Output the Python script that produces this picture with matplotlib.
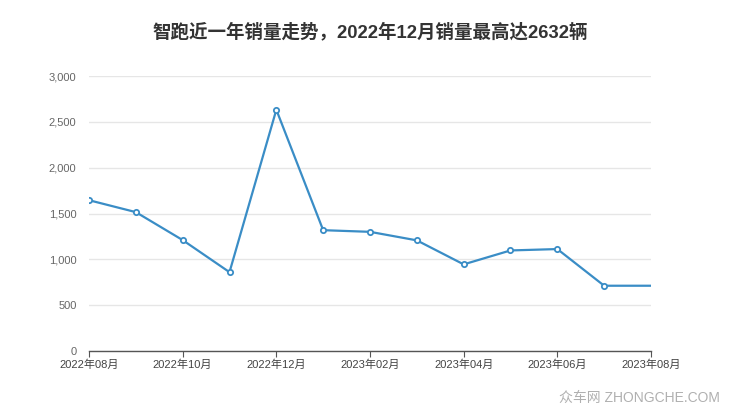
import matplotlib
matplotlib.use("Agg")
import matplotlib.pyplot as plt
from matplotlib.ticker import FuncFormatter

plt.rcParams["font.family"] = ["Liberation Sans", "Noto Sans CJK SC", "DejaVu Sans"]

# ========= 資料 =========
months = ["2022年08月", "2022年09月", "2022年10月", "2022年11月", "2022年12月",
          "2023年01月", "2023年02月", "2023年03月", "2023年04月", "2023年05月",
          "2023年06月", "2023年07月", "2023年08月"]
sales = [1645, 1515, 1210, 860, 2632, 1318, 1300, 1207, 945, 1097, 1112, 712, 712]
y_ticks = [0, 500, 1000, 1500, 2000, 2500, 3000]
title = "智跑近一年销量走势，2022年12月销量最高达2632辆"

line_color = "#3a8dc6"

fig = plt.figure(figsize=(7.4, 4.17), dpi=100)
ax = fig.add_axes([89 / 740, 1 - 351 / 417, (651 - 89) / 740, (351 - 76) / 417])

x = list(range(len(months)))
ax.plot(x, sales, color=line_color, linewidth=1.6, zorder=3)
ax.plot(x[:-1], sales[:-1], linestyle="none", marker="o", markersize=3.8,
        markerfacecolor="white", markeredgecolor=line_color, markeredgewidth=1.3, zorder=4)

ax.set_xlim(0, len(months) - 1)
ax.set_ylim(0, 3000)
ax.set_yticks(y_ticks)
ax.yaxis.set_major_formatter(FuncFormatter(lambda v, p: f"{int(v):,}"))
ax.set_xticks(x[::2])
ax.set_xticklabels(months[::2])

ax.grid(axis="y", color="#e6e6e6", linewidth=1)
ax.set_axisbelow(True)
for s in ["top", "right", "left"]:
    ax.spines[s].set_visible(False)
ax.spines["bottom"].set_color("#555555")
ax.spines["bottom"].set_linewidth(1)

ax.tick_params(axis="y", length=0, labelsize=8, labelcolor="#666666", pad=9)
ax.tick_params(axis="x", length=4, color="#555555", labelsize=8,
               labelcolor="#444444", pad=2)

fig.text(0.5, 1 - 32 / 417, title, ha="center", va="center",
         fontsize=13.3, fontweight="bold", color="#333333",
         family=["Liberation Sans", "Noto Sans CJK SC"])
fig.text(720 / 740, 1 - 398 / 417, "众车网 ZHONGCHE.COM", ha="right", va="center",
         fontsize=10, color="#b0b0b0")

fig.savefig("out.png", dpi=100)
plt.close(fig)
